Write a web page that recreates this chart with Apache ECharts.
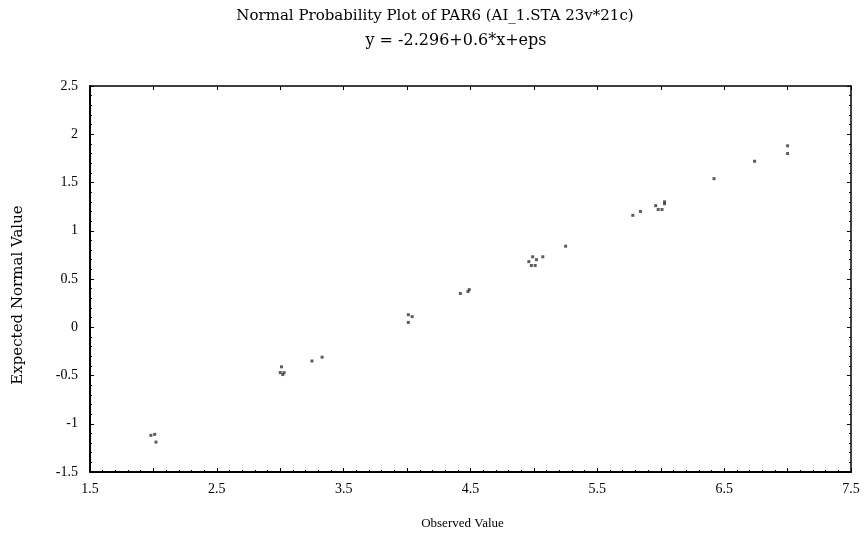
<!DOCTYPE html>
<html>
<head>
<meta charset="utf-8">
<script src="https://cdn.jsdelivr.net/npm/echarts@6/dist/echarts.min.js"></script>
<style>
  html, body { margin: 0; padding: 0; background: #fff; }
  #chart { width: 864px; height: 538px; }
</style>
</head>
<body>
<div id="chart"></div>
<script>
const observed = [1.98, 2.01, 2.02, 3.01, 3.00, 3.03, 3.02, 3.25, 3.33, 4.01, 4.04, 4.01,
  4.42, 4.48, 4.49, 4.96, 4.99, 5.02, 4.98, 5.01, 5.07, 5.25, 5.78, 5.84, 5.96, 5.98,
  6.01, 6.03, 6.03, 6.42, 6.74, 7.00, 7.00];
const expected = [-1.12, -1.11, -1.19, -0.41, -0.47, -0.47, -0.49, -0.35, -0.31, 0.13, 0.11, 0.05,
  0.35, 0.37, 0.39, 0.68, 0.73, 0.70, 0.64, 0.64, 0.73, 0.84, 1.16, 1.20, 1.26, 1.22,
  1.22, 1.30, 1.28, 1.54, 1.72, 1.88, 1.80];

const titleText = 'Normal Probability Plot of PAR6 (AI_1.STA 23v*21c)';
const subText = 'y = -2.296+0.6*x+eps';

const font = 'Liberation Serif';
const wide = 'DejaVu Serif';
const points = observed.map((x, i) => [x, expected[i]]);

const chart = echarts.init(document.getElementById('chart'));

const lineStyle = { color: '#000', width: 2 };
const tickIn = { show: true, inside: true, length: 4, lineStyle: { color: '#000', width: 1 } };
const minorIn = { show: true, splitNumber: 5, length: 2, lineStyle: { color: '#000', width: 1 } };

chart.setOption({
  backgroundColor: '#fff',
  animation: false,
  title: [
    { text: titleText, left: 430, textAlign: 'center', top: 4, textStyle: { fontFamily: wide, fontSize: 15, fontWeight: 'normal', color: '#000' } },
    { text: subText, left: 451, textAlign: 'center', top: 28, textStyle: { fontFamily: wide, fontSize: 16, fontWeight: 'normal', color: '#000' } }
  ],
  grid: { left: 90, right: 13, top: 86, bottom: 66 },
  xAxis: [
    {
      type: 'value', min: 1.5, max: 7.5, interval: 0.5,
      name: 'Observed Value', nameLocation: 'middle', nameGap: 45,
      nameTextStyle: { fontFamily: font, fontSize: 13, color: '#000', padding: [0, 16, 0, 0] },
      axisLine: { show: true, onZero: false, lineStyle },
      axisTick: tickIn, minorTick: minorIn,
      splitLine: { show: false },
      axisLabel: {
        fontFamily: font, fontSize: 14, color: '#000', margin: 10,
        formatter: v => (Math.round(v * 2) % 2 !== 0 ? v.toFixed(1) : '')
      }
    },
    {
      type: 'value', position: 'top', min: 1.5, max: 7.5, interval: 0.5,
      axisLine: { show: true, onZero: false, lineStyle: { color: '#000', width: 1.5 } },
      axisTick: tickIn, axisLabel: { show: false }, splitLine: { show: false }
    }
  ],
  yAxis: [
    {
      type: 'value', min: -1.5, max: 2.5, interval: 0.5,
      name: 'Expected Normal Value', nameLocation: 'middle', nameGap: 64,
      nameTextStyle: { fontFamily: wide, fontSize: 15, color: '#000', padding: [0, 32, 0, 0] },
      axisLine: { show: true, onZero: false, lineStyle },
      axisTick: tickIn, minorTick: minorIn,
      splitLine: { show: false },
      axisLabel: { fontFamily: font, fontSize: 14, color: '#000', margin: 12 }
    },
    {
      type: 'value', position: 'right', min: -1.5, max: 2.5, interval: 0.5,
      axisLine: { show: true, onZero: false, lineStyle: { color: '#000', width: 1.5 } },
      axisTick: tickIn, minorTick: minorIn, axisLabel: { show: false }, splitLine: { show: false }
    }
  ],
  series: [{
    type: 'scatter',
    data: points,
    symbol: 'rect',
    symbolSize: 3,
    itemStyle: { color: '#333' }
  }]
});
</script>
</body>
</html>
